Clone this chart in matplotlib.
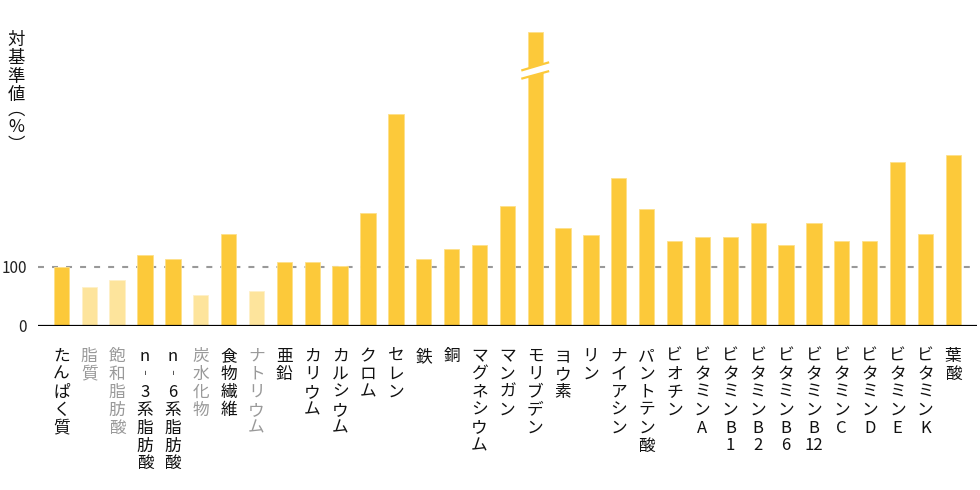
import matplotlib
matplotlib.use("Agg")
import matplotlib.pyplot as plt

plt.rcParams['font.family'] = ['Noto Sans CJK JP', 'DejaVu Sans']
plt.rcParams['lines.scale_dashes'] = False

# nutrient names (vertical labels), % of reference value
nutrients = [
    "たんぱく質", "脂質", "飽和脂肪酸", "n-3系脂肪酸", "n-6系脂肪酸", "炭水化物",
    "食物繊維", "ナトリウム", "亜鉛", "カリウム", "カルシウム", "クロム", "セレン",
    "鉄", "銅", "マグネシウム", "マンガン", "モリブデン", "ヨウ素", "リン",
    "ナイアシン", "パントテン酸", "ビオチン", "ビタミンA", "ビタミンB1",
    "ビタミンB2", "ビタミンB6", "ビタミンB12", "ビタミンC", "ビタミンD",
    "ビタミンE", "ビタミンK", "葉酸",
]
values = [
    100, 66, 78, 120, 114, 53, 156, 59, 108, 108, 102, 191, 360,
    113, 131, 137, 203, 500, 167, 155, 252, 199, 144, 150, 150,
    175, 138, 175, 144, 144, 278, 156, 290,
]
# nutrients to limit (drawn pale)
limited = ["脂質", "飽和脂肪酸", "炭水化物", "ナトリウム"]
broken = "モリブデン"   # bar cut off at the top

BAR = "#fcc93a"
BAR_PALE = "#fde49c"

fig = plt.figure(figsize=(9.8, 4.9), dpi=100)
ax = fig.add_axes([38 / 980, 1 - 325.7 / 490, (976.7 - 38) / 980, (325.7 - 31.7) / 490])

x = list(range(len(nutrients)))
colors = [BAR_PALE if n in limited else BAR for n in nutrients]
edges = ["#fff0c8" if n in limited else "#fde08a" for n in nutrients]
ax.bar(x, values, width=0.55, color=colors, edgecolor=edges, linewidth=0.6, zorder=2)

ax.axhline(100, color="#999999", lw=1.5, dashes=(4.3, 5.8), zorder=1)
ax.axhline(0, color="black", lw=1.6, zorder=3)

ax.set_xlim(-0.84, len(nutrients) - 1 + 0.84)
ax.set_ylim(0, 500)
for s in ax.spines.values():
    s.set_visible(False)
ax.set_xticks([])
ax.set_yticks([0, 100])
ax.set_yticklabels(["0", "100"], fontsize=11, color="#222222")
ax.tick_params(axis="y", length=0, pad=8)

# break symbol on the clipped bar
bi = nutrients.index(broken)
ax.fill([bi - 0.5, bi + 0.5, bi + 0.5, bi - 0.5], [420, 433, 448, 434],
        color="white", lw=0, zorder=4, clip_on=False)
for y0, y1 in [(420, 433), (434, 448)]:
    ax.plot([bi - 0.5, bi + 0.5], [y0, y1], color=BAR, lw=1.6, zorder=5,
            clip_on=False, solid_capstyle="butt")


def vertical(s):
    parts = []
    i = 0
    while i < len(s):
        if s[i:i + 2] == "12":
            parts.append("12")
            i += 2
            continue
        parts.append("︲" if s[i] == "-" else s[i])
        i += 1
    return "\n".join(parts)


for i, name in enumerate(nutrients):
    ax.annotate(vertical(name), xy=(i, 0), xytext=(0, -16), textcoords="offset points",
                ha="center", va="top", fontsize=12, linespacing=1.07,
                color="#999999" if name in limited else "#111111", annotation_clip=False)

# y axis title, written top to bottom
fx = 16 / 980
fig.text(fx, 1 - 31 / 490, "\n".join("対基準値"), ha="center", va="top",
         fontsize=12.5, linespacing=1.02, color="#111111")
fig.text(fx, 1 - 101 / 490, "\n".join("︵%︶"), ha="center", va="top",
         fontsize=12.5, linespacing=0.95, color="#111111")

fig.savefig("out.png", dpi=100)
